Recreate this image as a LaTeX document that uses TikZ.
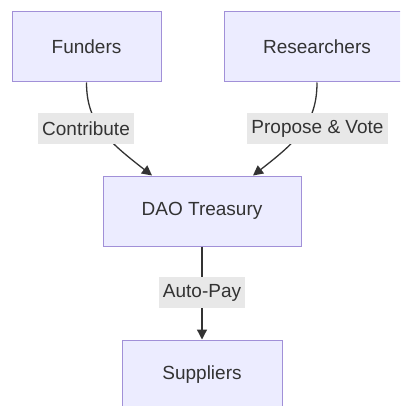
\documentclass[tikz,border=0pt]{standalone}
\usepackage{fontspec}
\setmainfont{Liberation Sans}
\usetikzlibrary{arrows.meta,calc}
\definecolor{boxfill}{HTML}{ECECFF}
\definecolor{boxline}{HTML}{A190D8}
\definecolor{ink}{HTML}{333333}
\definecolor{lblfill}{HTML}{E8E8E8}
\begin{document}
\begin{tikzpicture}[x=1pt,y=-1pt,
  entity/.style={draw=boxline,fill=boxfill,line width=1pt,inner sep=0pt,text=ink,font=\fontsize{19}{23}\selectfont},
  flow/.style={draw=ink,line width=1.3pt,-{Triangle[length=10pt,width=10pt]}},
  tag/.style={fill=lblfill,text=ink,inner xsep=4pt,inner ysep=0pt,minimum height=31pt,font=\fontsize{19}{23}\selectfont}]
\useasboundingbox (0,0) rectangle (400,406);
\clip (0,0) rectangle (400,406);
\fill[white] (0,0) rectangle (400,406);
\node[entity,minimum width=149pt,minimum height=70pt] (funders) at (86.5,47) {Funders};
\node[entity,minimum width=186pt,minimum height=70pt] (researchers) at (317,47) {Researchers};
\node[entity,minimum width=198pt,minimum height=70pt] (dao) at (202,211) {DAO Treasury};
\node[entity,minimum width=160pt,minimum height=70pt] (suppliers) at (202,375) {Suppliers};
\coordinate (daoL) at ($(dao.north)+(-50,0)$);
\coordinate (daoR) at ($(dao.north)+(51,0)$);
\draw[flow] (funders.south) .. controls ($(funders.south)+(0,40)$) and ($(daoL)+(-45,-35)$) .. (daoL);
\draw[flow] (researchers.south) .. controls ($(researchers.south)+(0,40)$) and ($(daoR)+(45,-35)$) .. (daoR);
\draw[flow] (dao.south) -- (suppliers.north);
\node[tag] (lcontrib) at (86,128.5) {Contribute};
\node[tag] (lpropose) at (317.5,128.5) {Propose \& Vote};
\node[tag] (lpay) at (202,292.5) {Auto-Pay};
\end{tikzpicture}
\end{document}
